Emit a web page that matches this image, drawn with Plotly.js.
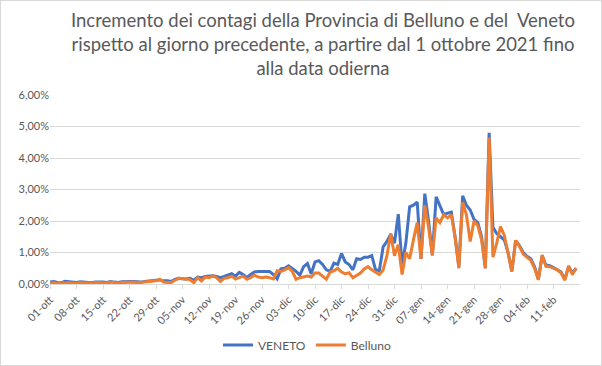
<!DOCTYPE html>
<html>
<head>
<meta charset="utf-8">
<script src="https://cdn.plot.ly/plotly-3.0.1.min.js"></script>
<style>
html,body{margin:0;padding:0;background:#fff;}
#frame{width:600px;height:364px;border:1px solid #d9d9d9;position:relative;overflow:hidden;}
#chart{width:600px;height:364px;}
</style>
</head>
<body>
<div id="frame"><div id="chart"></div></div>
<script>
// Categories: one point per day starting 01-ott-2021
const startDate = '2021-10-01';
const nDays = 140;

// Daily increase of cases vs previous day, in percent
const veneto = [
0.06,0.08,0.05,0.04,0.09,0.07,0.06,0.05,0.07,0.06,
0.05,0.04,0.06,0.07,0.06,0.05,0.08,0.06,0.05,0.07,
0.08,0.09,0.08,0.07,0.06,0.08,0.10,0.11,0.12,0.13,
0.10,0.10,0.08,0.15,0.18,0.17,0.16,0.18,0.12,0.22,
0.20,0.24,0.25,0.26,0.24,0.20,0.24,0.28,0.33,0.25,
0.37,0.30,0.20,0.30,0.38,0.40,0.40,0.40,0.40,0.30,
0.16,0.48,0.50,0.58,0.50,0.40,0.28,0.55,0.65,0.32,
0.70,0.74,0.62,0.45,0.40,0.66,0.62,0.97,0.70,0.62,
0.45,0.80,0.78,0.85,0.85,0.90,0.45,0.42,1.18,1.35,
1.58,1.30,2.22,0.60,1.30,2.45,2.50,2.60,0.80,2.87,
2.00,0.92,2.77,2.50,2.20,2.25,2.28,1.50,0.55,2.80,
2.50,2.35,2.05,1.95,1.50,0.50,4.80,1.80,1.60,1.50,
1.40,1.00,0.40,1.38,1.22,1.00,0.88,0.80,0.55,0.15,
0.90,0.60,0.58,0.52,0.45,0.38,0.15,0.55,0.35,0.50
];
const belluno = [
0.03,0.04,0.02,0.03,0.05,0.04,0.03,0.02,0.05,0.03,
0.04,0.02,0.05,0.04,0.05,0.03,0.06,0.04,0.03,0.05,
0.06,0.05,0.06,0.04,0.05,0.07,0.09,0.08,0.10,0.15,
0.06,0.05,0.05,0.12,0.18,0.17,0.16,0.14,0.04,0.20,
0.10,0.22,0.20,0.26,0.20,0.08,0.18,0.20,0.25,0.16,
0.20,0.25,0.15,0.20,0.28,0.22,0.20,0.22,0.20,0.16,
0.42,0.40,0.45,0.52,0.40,0.15,0.20,0.22,0.25,0.22,
0.35,0.35,0.25,0.15,0.38,0.42,0.50,0.38,0.32,0.36,
0.20,0.28,0.35,0.48,0.55,0.45,0.38,0.30,0.45,0.90,
1.60,0.90,1.25,0.30,1.00,0.80,1.40,1.95,0.80,2.50,
1.80,0.90,2.10,1.95,2.20,2.10,2.20,1.50,0.50,2.60,
2.20,1.35,2.00,1.85,1.40,0.50,4.65,0.85,1.30,1.82,
1.55,1.00,0.40,1.38,1.20,0.95,0.85,0.75,0.50,0.13,
0.92,0.56,0.55,0.50,0.45,0.35,0.12,0.58,0.30,0.50
];

const tickDates = ['2021-10-01','2021-10-08','2021-10-15','2021-10-22','2021-10-29',
  '2021-11-05','2021-11-12','2021-11-19','2021-11-26','2021-12-03','2021-12-10',
  '2021-12-17','2021-12-24','2021-12-31','2022-01-07','2022-01-14','2022-01-21',
  '2022-01-28','2022-02-04','2022-02-11'];
const tickLabels = ['01-ott','08-ott','15-ott','22-ott','29-ott','05-nov','12-nov',
  '19-nov','26-nov','03-dic','10-dic','17-dic','24-dic','31-dic','07-gen','14-gen',
  '21-gen','28-gen','04-feb','11-feb'];

const titleText = 'Incremento dei contagi della Provincia di Belluno e del  Veneto<br>rispetto al giorno precedente, a partire dal 1 ottobre 2021 fino<br>alla data odierna';

// build date strings for the category axis
const dates = [];
const s = new Date(startDate + 'T00:00:00Z');
for (let i = 0; i < nDays; i++) {
  const d = new Date(s.getTime() + i * 86400000);
  dates.push(d.toISOString().slice(0, 10));
}
const pct = a => a.map(v => v / 100);

const FONT = 'Lato, "Open Sans", sans-serif';
const traces = [
  {x: dates, y: pct(veneto), name: 'VENETO', type: 'scatter', mode: 'lines',
   line: {color: '#4472C4', width: 3}},
  {x: dates, y: pct(belluno), name: 'Belluno', type: 'scatter', mode: 'lines',
   line: {color: '#ED7D31', width: 3}}
];

const layout = {
  width: 600, height: 364,
  margin: {l: 49, r: 21, t: 94, b: 81},
  paper_bgcolor: '#ffffff', plot_bgcolor: '#ffffff',
  separators: ',.',
  font: {family: FONT, color: '#595959', size: 11},
  annotations: [{
    text: titleText, showarrow: false,
    xref: 'paper', yref: 'paper', x: 0.515, xanchor: 'center',
    y: 1.27, yanchor: 'middle', align: 'center',
    font: {family: FONT, size: 18.5, color: '#595959'}
  }],
  xaxis: {
    type: 'date',
    range: ['2021-10-01', '2022-02-18'],
    tickvals: tickDates, ticktext: tickLabels,
    tickangle: -45,
    ticks: 'outside', ticklen: 4, tickcolor: '#d9d9d9',
    showgrid: false, zeroline: false,
    showline: true, linecolor: '#d9d9d9', linewidth: 1,
    tickfont: {family: FONT, size: 11, color: '#595959'}
  },
  yaxis: {
    range: [0, 0.06], dtick: 0.01, tickformat: '.2%',
    showgrid: true, gridcolor: '#d9d9d9', gridwidth: 1,
    zeroline: false, showline: false, ticks: '',
    tickfont: {family: FONT, size: 11, color: '#595959'}
  },
  showlegend: true,
  legend: {
    orientation: 'h', x: 0.51, xanchor: 'center', xref: 'container',
    y: 0.015, yref: 'container', yanchor: 'bottom',
    font: {family: FONT, size: 12, color: '#595959'},
    itemwidth: 30
  }
};

Plotly.newPlot('chart', traces, layout, {displayModeBar: false, staticPlot: true});
</script>
</body>
</html>
